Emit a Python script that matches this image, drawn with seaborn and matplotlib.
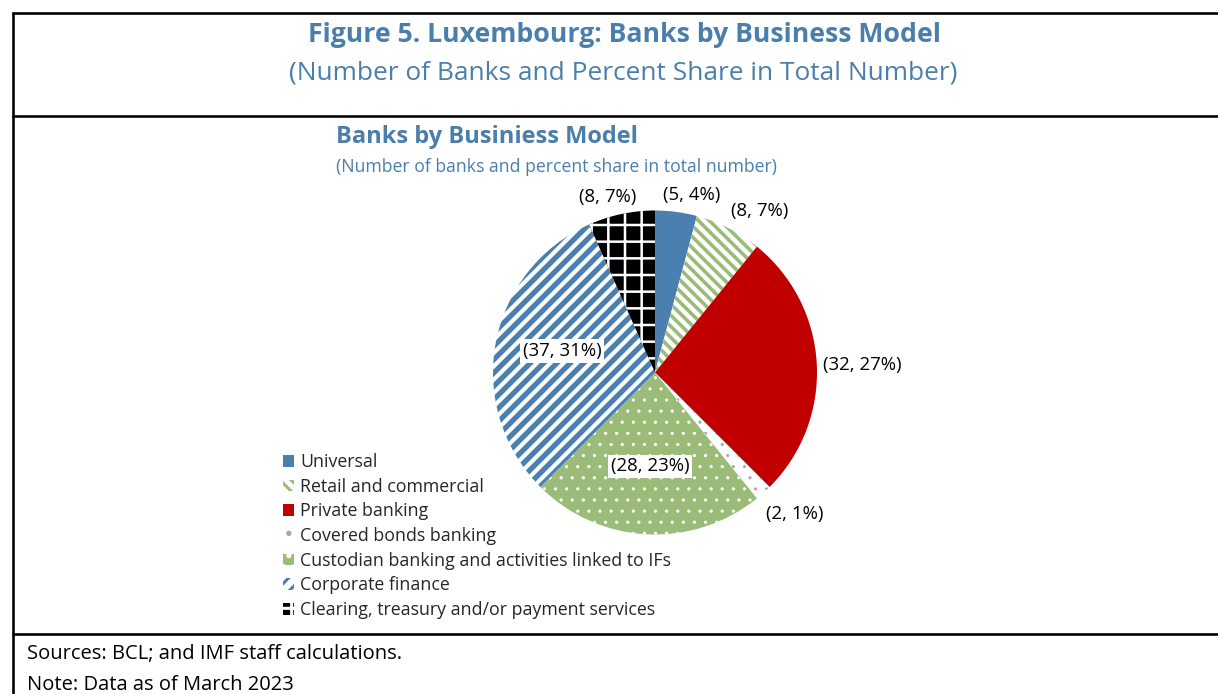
import matplotlib
matplotlib.use("Agg")
import numpy as np
import matplotlib.pyplot as plt
from matplotlib.lines import Line2D
import seaborn as sns

# Business models of Luxembourg banks (March 2023)
categories = [
    "Universal",
    "Retail and commercial",
    "Private banking",
    "Covered bonds banking",
    "Custodian banking and activities linked to IFs",
    "Corporate finance",
    "Clearing, treasury and/or payment services",
]
bank_counts = [5, 8, 32, 2, 28, 37, 8]
share_pct = [4, 7, 27, 1, 23, 31, 7]

W, H, DPI = 1218, 694, 200

sns.set_theme(style="white")
plt.rcParams["font.family"] = ["Open Sans", "DejaVu Sans"]
plt.rcParams["hatch.linewidth"] = 1.1


def pt(px):
    """Pixel size -> points at the figure resolution."""
    return px * 72 / DPI


def fx(x):
    return x / W


def fy(y):
    return 1 - y / H


TITLE_BLUE = "#4a7eab"
BLUE = "#4b7fb0"
GREEN = "#9bbb78"
RED = "#c00000"
GREY = "#a6a6a6"

faces = [BLUE, "white", RED, "white", GREEN, "white", "black"]
pattern_colors = [BLUE, GREEN, RED, GREY, "white", BLUE, "white"]
hatches = [None, "\\" * 6, None, "...", "...", "/" * 5, "++"]
pattern_widths = [1.0, 1.3, 1.0, 0.3, 0.35, 1.9, 0.9]

fig = plt.figure(figsize=(W / DPI, H / DPI), dpi=DPI)
fig.patch.set_facecolor("white")

# frame rules
rule_kw = dict(color="black", linewidth=pt(2.6), solid_capstyle="butt")
for y in (13, 116, 634):
    fig.add_artist(Line2D([fx(12), 1.0], [fy(y), fy(y)], **rule_kw))
fig.add_artist(Line2D([fx(13), fx(13)], [fy(12), 0.0], **rule_kw))

# headings
fig.text(fx(624), fy(35), "Figure 5. Luxembourg: Banks by Business Model",
         ha="center", va="center", fontsize=pt(26.6), fontweight="bold", color=TITLE_BLUE)
fig.text(fx(623), fy(73), "(Number of Banks and Percent Share in Total Number)",
         ha="center", va="center", fontsize=pt(26.3), color=TITLE_BLUE)
fig.text(fx(336), fy(137), "Banks by Businiess Model",
         ha="left", va="center", fontsize=pt(23.6), fontweight="bold", color=TITLE_BLUE)
fig.text(fx(336), fy(167), "(Number of banks and percent share in total number)",
         ha="left", va="center", fontsize=pt(17.7), color=TITLE_BLUE)

# pie
cx, cy, R = 655, 372.5, 162
ax = fig.add_axes([fx(cx - R), fy(cy + R), 2 * R / W, 2 * R / H])
wedges, _ = ax.pie(bank_counts, startangle=90, counterclock=False, radius=1,
                   colors=faces, wedgeprops=dict(linewidth=0))
for w, pc, h, lw in zip(wedges, pattern_colors, hatches, pattern_widths):
    w.set_edgecolor(pc)
    w.set_linewidth(0)
    if h:
        w.set_hatch(h)
    if hasattr(w, "set_hatch_linewidth"):
        w.set_hatch_linewidth(lw)
ax.set_xlim(-1, 1)
ax.set_ylim(-1, 1)
ax.set_axis_off()

# data labels: radial distance and angular nudge (clockwise degrees)
label_radius = [1.12, 1.19, 1.28, 1.23, 0.58, 0.59, 1.12]
label_nudge = [4.3, 6.0, 0.8, -2.6, 0.0, 2.5, -3.0]
boxed = [False, False, False, False, True, True, False]
for w, n, p, r, d, b in zip(wedges, bank_counts, share_pct, label_radius, label_nudge, boxed):
    mid = np.deg2rad((w.theta1 + w.theta2) / 2 - d)
    kw = dict(ha="center", va="center", fontsize=pt(18.7), color="black", clip_on=False)
    if b:
        kw["bbox"] = dict(facecolor="white", edgecolor="none", pad=1.0)
    ax.text(r * np.cos(mid), r * np.sin(mid), f"({n}, {p}%)", **kw)

# legend
fig.legend(wedges, categories, loc="upper left", bbox_to_anchor=(fx(283), fy(453)),
           bbox_transform=fig.transFigure, frameon=False, fontsize=pt(17.8),
           handlelength=0.62, handleheight=0.62, handletextpad=0.35,
           labelspacing=0.375, borderpad=0, borderaxespad=0)

# notes
fig.text(fx(27), fy(654), "Sources: BCL; and IMF staff calculations.",
         ha="left", va="center", fontsize=pt(20.2), color="black")
fig.text(fx(27), fy(685), "Note: Data as of March 2023",
         ha="left", va="center", fontsize=pt(20.2), color="black")

fig.savefig("out.png", dpi=DPI, facecolor="white")
